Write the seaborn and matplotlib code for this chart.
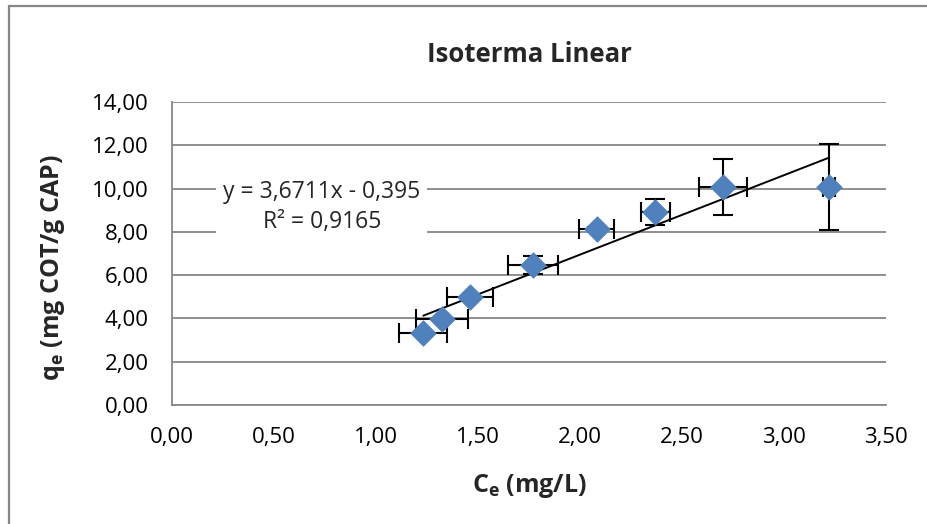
import numpy as np
import pandas as pd
import matplotlib
matplotlib.use("Agg")
import matplotlib.pyplot as plt
import seaborn as sns
from matplotlib.patches import Rectangle

# ---- data ----
ce = [1.232, 1.322, 1.461, 1.771, 2.082, 2.368, 2.703, 3.222]
qe = [3.31, 3.97, 4.98, 6.47, 8.13, 8.93, 10.06, 10.09]
ce_err = [0.117, 0.127, 0.112, 0.123, 0.086, 0.071, 0.118, 0.03]
qe_err = [0.0, 0.0, 0.0, 0.41, 0.10, 0.61, 1.30, 1.99]
slope = 3.6711
intercept = -0.395
eq_label = "y = 3,6711x - 0,395\nR² = 0,9165"
title = "Isoterma Linear"
xlabel = r"$\mathbf{C_e}$ (mg/L)"
ylabel = r"$\mathbf{q_e}$ (mg COT/g CAP)"
xticks = [0.0, 0.5, 1.0, 1.5, 2.0, 2.5, 3.0, 3.5]
yticks = [0, 2, 4, 6, 8, 10, 12, 14]

df = pd.DataFrame({"Ce": ce, "qe": qe})
trend = pd.DataFrame({"Ce": [min(ce), max(ce)]})
trend["qe"] = slope * trend["Ce"] + intercept

sns.set_style("white")
FONT = ["Open Sans", "DejaVu Sans"]
plt.rcParams["font.family"] = FONT
plt.rcParams["mathtext.fontset"] = "custom"
plt.rcParams["mathtext.rm"] = "Open Sans"
plt.rcParams["mathtext.bf"] = "Open Sans:bold"
plt.rcParams["mathtext.it"] = "Open Sans:italic"

W, H = 928, 524
fig = plt.figure(figsize=(W / 100, H / 100), dpi=100)
ax = fig.add_axes([172 / W, 1 - 405 / H, (886 - 172) / W, (405 - 102) / H])

grey = "#878787"
# chart-area border (left + top visible)
fig.patches.append(Rectangle((9 / W, -0.1), 1.2, 1 - 6.5 / H + 0.1,
                             transform=fig.transFigure, fill=False,
                             edgecolor=grey, linewidth=1.6, zorder=0))

ax.set_xlim(0, 3.5)
ax.set_ylim(0, 14)
ax.set_xticks(xticks)
ax.set_yticks(yticks)
ax.set_xticklabels([f"{v:.2f}".replace(".", ",") for v in xticks])
ax.set_yticklabels([f"{v:.2f}".replace(".", ",") for v in yticks])
ax.yaxis.grid(True, color=grey, linewidth=1.3, zorder=0)
ax.xaxis.grid(False)
ax.set_axisbelow(True)
for s in ["top", "right"]:
    ax.spines[s].set_visible(False)
for s in ["left", "bottom"]:
    ax.spines[s].set_color(grey)
    ax.spines[s].set_linewidth(1.3)
ax.tick_params(axis="both", which="both", direction="out", length=6,
               width=1.1, color=grey, labelsize=16, labelcolor="black")
ax.tick_params(axis="y", pad=11)
ax.tick_params(axis="x", pad=10)

# trend line
sns.lineplot(data=trend, x="Ce", y="qe", ax=ax, color="black",
             linewidth=1.4, zorder=3, legend=False)
# error bars
ax.errorbar(ce, qe, xerr=ce_err, yerr=qe_err, fmt="none", ecolor="black",
            elinewidth=1.5, capsize=7, capthick=1.5, zorder=4)
# markers
sns.scatterplot(data=df, x="Ce", y="qe", ax=ax, marker="D", s=170,
                color="#4F81BD", edgecolor="#4F81BD", linewidth=0.5,
                zorder=5, legend=False)

ax.text(0.735, 9.14, eq_label, ha="center", va="center", fontsize=16.5,
        linespacing=1.3, multialignment="center",
        bbox=dict(facecolor="white", edgecolor="none", pad=5), zorder=2)

ax.set_title(title, y=(405 - 55) / 303, va="center", fontsize=18.5,
             fontweight="bold", pad=0)
ax.set_xlabel(xlabel, fontsize=18, fontweight="bold", va="center")
ax.set_ylabel(ylabel, fontsize=18, fontweight="bold", va="center")
ax.xaxis.set_label_coords(0.5, (405 - 486) / 303)
ax.yaxis.set_label_coords((53 - 172) / 714, 0.452)

fig.savefig("out.png", dpi=100)
